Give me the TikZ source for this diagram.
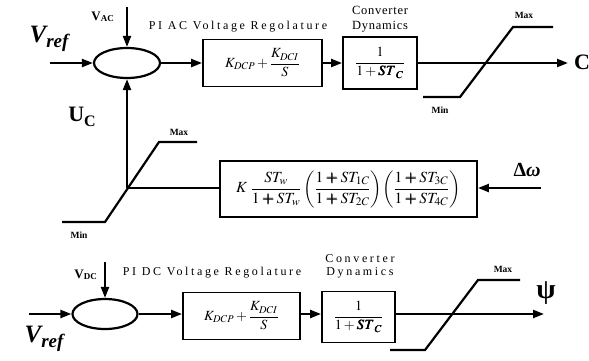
\documentclass[tikz,border=0pt]{standalone}
\usepackage{amsmath}
\usepackage{mathptmx}
\usepackage{bm}
\usepackage{fontspec}
\setmainfont{Liberation Serif}
\usetikzlibrary{shapes.geometric,arrows.meta}
\tikzset{
  ln/.style={line width=2.2pt},
  arr/.style={ln,-{Triangle[length=11pt,width=8pt]}},
  sumnode/.style={ellipse,draw,line width=2.2pt,minimum width=66pt,minimum height=30pt,inner sep=0pt},
  blk/.style={draw,line width=1.9pt,inner sep=0pt,font=\fontsize{14}{16}\selectfont},
  lim/.style={font=\fontsize{9.5}{10}\selectfont\bfseries,inner sep=0pt},
  lbl/.style={font=\fontsize{12}{13}\selectfont\addfontfeature{LetterSpace=22},inner sep=0pt},
  lblb/.style={font=\fontsize{12.5}{15}\selectfont\addfontfeature{LetterSpace=6},inner sep=0pt,align=center},
}
\newcommand{\Vref}{{\fontsize{25}{25}\selectfont\bfseries\itshape V}{\fontsize{19}{19}\selectfont\bfseries\itshape\raisebox{-5pt}{ref}}}
\begin{document}
\begin{tikzpicture}[x=1pt,y=-1pt]
\useasboundingbox (0,0) rectangle (589,360);
% ---------- top loop ----------
\node[sumnode] (s1) at (127,63) {};
\node[blk,minimum width=119pt,minimum height=47pt] (pi1) at (262.5,63) {$K_{DCP}+\dfrac{K_{DCI}}{S}$};
\node[blk,minimum width=74pt,minimum height=52pt] (cd1) at (380,63) {$\dfrac{1}{1+\bm{ST_C}}$};
\coordinate (vrin1) at (50,63);
\coordinate (vac) at (127,7);
\coordinate (out1) at (568,63);
\node[inner sep=0pt] (vr1) at (49,39) {\Vref};
\node[inner sep=0pt,anchor=east] (vaclbl) at (114,17) {\fontsize{13}{13}\selectfont\bfseries V\raisebox{-1pt}{\fontsize{9}{9}\selectfont AC}};
\node[lbl] (pilbl1) at (238,27) {PI AC Voltage Regolature};
\node[lblb] (cdl1) at (380,19) {Converter\\Dynamics};
\node[inner sep=0pt] (clbl) at (582,62) {\fontsize{22}{22}\selectfont\bfseries C};
\draw[arr] (vrin1) -- (s1);
\draw[arr] (vac) -- (s1);
\draw[arr] (s1) -- (pi1);
\draw[arr] (pi1) -- (cd1);
\draw[arr] (cd1) -- (out1);
\draw[ln] (423,97) -- (460,97) -- (513,27) -- (553,27);
\node[lim] (max1) at (524,15) {Max};
\node[lim] (min1) at (440,110) {Min};
% ---------- feedback ----------
\coordinate (fb) at (127,188);
\node[blk,minimum width=257pt,minimum height=56pt,font=\fontsize{15.5}{17}\selectfont] (pss) at (348.5,189)
 {$K\;\dfrac{ST_w}{1\bm{+}ST_w}\left(\dfrac{1\bm{+}ST_{1C}}{1\bm{+}ST_{2C}}\right)\!\left(\dfrac{1\bm{+}ST_{3C}}{1\bm{+}ST_{4C}}\right)$};
\coordinate (dwin) at (541,188);
\draw[arr] (dwin) -- (pss.east|-dwin);
\draw[ln] (pss.west|-fb) -- (fb);
\draw[arr] (fb) -- (s1);
\draw[ln] (62,222) -- (105,222) -- (159,142) -- (197,142);
\node[lim] (max2) at (179,132) {Max};
\node[lim] (min2) at (79,235) {Min};
\node[inner sep=0pt] (uc) at (82,117) {\fontsize{22}{22}\selectfont\bfseries U\raisebox{-5pt}{\fontsize{16}{16}\selectfont C}};
\node[inner sep=0pt] (dw) at (527,170) {\fontsize{20}{20}\selectfont\bfseries Δ\textit{ω}};
% ---------- bottom loop ----------
\node[sumnode,minimum width=65pt] (s2) at (105,314) {};
\node[blk,minimum width=117pt,minimum height=47pt] (pi2) at (241.5,316) {$K_{DCP}+\dfrac{K_{DCI}}{S}$};
\node[blk,minimum width=73pt,minimum height=51pt] (cd2) at (358.5,317) {$\dfrac{1}{1+\bm{ST_C}}$};
\coordinate (vrin2) at (29,314);
\coordinate (vdc) at (105,262);
\coordinate (out2) at (544,314);
\node[inner sep=0pt] (vr2) at (44,339) {\Vref};
\node[inner sep=0pt,anchor=east] (vdclbl) at (97,275) {\fontsize{13}{13}\selectfont\bfseries V\raisebox{-1pt}{\fontsize{9}{9}\selectfont DC}};
\node[lbl] (pilbl2) at (212,273) {PI DC Voltage Regolature};
\node[lbl,align=center] (cdl2) at (360,266) {Converter\\Dynamics};
\node[inner sep=0pt] (psi) at (546,293) {\fontsize{28}{28}\selectfont\bfseries ψ};
\draw[arr] (vrin2) -- (s2);
\draw[arr] (vdc) -- (s2);
\draw[arr] (s2) -- (s2-|pi2.west);
\draw[arr] (pi2.east|-s2) -- (s2-|cd2.west);
\draw[arr] (cd2.east|-s2) -- (out2);
\draw[ln] (390,350) -- (425,350) -- (478,280) -- (520,280);
\node[lim] (max3) at (503,269) {Max};
\end{tikzpicture}
\end{document}
